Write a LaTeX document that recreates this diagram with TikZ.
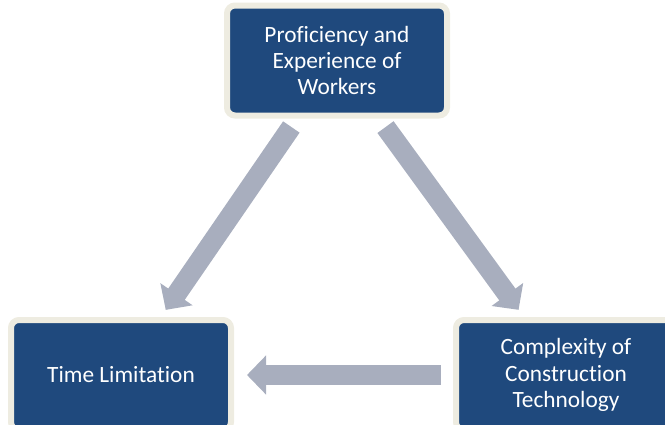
\documentclass[tikz,border=0pt]{standalone}
\usepackage{fontspec}
\setmainfont{Carlito}[Ligatures=NoCommon]
\usetikzlibrary{positioning, shapes, arrows.meta, calc}
\definecolor{boxblue}{RGB}{31,73,125}
\definecolor{boxrim}{RGB}{238,236,225}
\definecolor{arrowgray}{RGB}{168,174,190}

\begin{document}
\begin{tikzpicture}[x=0.75pt, y=-0.75pt,
    factor/.style={rectangle, rounded corners=6pt, fill=boxblue, draw=boxrim, line width=4.5pt,
      minimum width=165pt, minimum height=82.5pt, inner sep=0pt, align=center, text=white,
      font=\fontsize{17.5}{19.8}\selectfont},
    flow/.style={draw=arrowgray, line width=15pt, -{Triangle[width=28.5pt, length=14.25pt]}}]
  \useasboundingbox (0,0) rectangle (665,425);
  % Nodes
  \node[factor] (workers) at (337,60.5) {Proficiency and\\Experience of\\Workers};
  \node[factor] (time) at (121,375) {Time Limitation};
  \node[factor] (tech) at (566,375) {Complexity of\\Construction\\Technology};

  % Arrows
  \foreach \a/\b/\s/\e in {workers/time/60.5/59.25, workers/tech/61.8/60.45, tech/time/93.75/94.5}
  \draw[flow, shorten <=\s pt, shorten >=\e pt] (\a.center) -- (\b.center);
\end{tikzpicture}
\end{document}
